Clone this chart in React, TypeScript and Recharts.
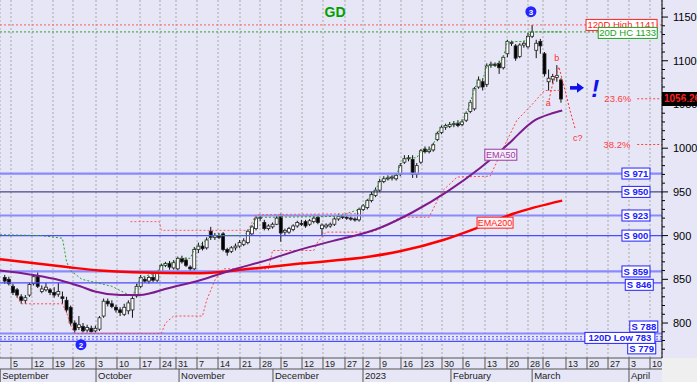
import React from 'react';
import {
  ComposedChart, Bar, Line, XAxis, YAxis, CartesianGrid, ReferenceLine, ReferenceDot, Customized,
} from 'recharts';

const FONT = '"Liberation Sans", Arial, Helvetica, sans-serif';

// ---------- DATA ----------
const FIRST_DAY = -2; // trading-day index of the first candle
const opens = [852,850,842,838,830,826,832,845,853,836,838,838,835,833,830,826,818,800,795,796,792,794,791,793,808,825,822,818,815,810,814,815,831,842,850,848,852,849,858,866,868,863,862,874,872,864,862,884,888,886,905,898,900,902,884,882,886,888,890,892,902,908,920,915,908,910,913,922,904,904,907,911,914,916,913,916,921,908,910,911,913,919,922,921,920,919,918,930,932,940,946,952,962,965,966,965,970,984,988,987,970,984,999,996,998,1010,1018,1024,1025,1027,1028,1027,1032,1042,1045,1070,1076,1073,1095,1096,1097,1092,1108,1120,1117,1105,1118,1116,1128,1112,1122,1108,1076,1079,1081,1078];
const highs = [855,853,845,840,833,832,846,856,858,843,846,840,841,846,836,830,820,803,808,800,798,797,797,808,828,828,826,821,818,822,826,832,845,855,853,854,856,860,868,870,871,872,876,877,875,866,887,892,893,898,910,903,903,904,886,888,891,895,897,907,912,923,924,918,913,915,924,925,908,910,913,917,918,918,919,924,924,914,914,915,921,925,924,923,922,921,932,936,942,950,955,965,968,969,969,971,983,992,992,992,983,999,1002,1002,1006,1019,1026,1028,1030,1031,1032,1033,1042,1055,1070,1082,1080,1097,1099,1098,1100,1106,1124,1123,1119,1120,1123,1132,1141,1124,1125,1110,1090,1085,1095,1080];
const lows = [845,843,832,829,822,822,830,843,840,834,836,832,829,830,822,812,797,788,792,789,789,789,789,791,806,819,817,812,808,808,810,806,829,840,846,845,847,847,856,864,861,861,860,868,864,858,860,880,883,884,895,895,896,882,877,880,883,886,888,890,900,906,917,906,906,908,912,893,900,902,905,909,911,909,911,914,913,900,908,909,911,917,919,918,917,916,916,928,930,938,944,950,960,963,963,963,968,982,985,966,966,982,994,994,996,1008,1016,1021,1023,1024,1024,1025,1030,1040,1043,1068,1066,1070,1092,1093,1085,1090,1104,1117,1100,1103,1115,1114,1126,1103,1108,1082,1066,1074,1076,1052];
const closes = [848,845,835,832,826,829,844,853,842,839,841,835,832,836,828,815,800,792,798,791,795,790,794,806,825,822,819,815,812,818,823,828,842,852,848,852,849,858,866,868,864,869,874,870,866,862,884,888,885,895,898,900,898,884,881,886,888,892,894,905,910,920,921,908,911,913,920,903,906,908,911,915,913,911,917,920,915,912,912,913,919,922,921,920,919,918,930,934,940,947,952,962,965,966,967,969,980,988,989,970,980,997,996,998,1004,1017,1024,1026,1027,1028,1026,1030,1040,1052,1068,1078,1070,1094,1096,1095,1092,1104,1122,1121,1103,1118,1120,1128,1133,1120,1117,1085,1080,1082,1083,1056.26];

// moving averages, read at sampled days: [day, value]
const ema50Pts = [[-3.15,860],[4.85,855],[11.4,849],[16.3,842],[19.9,836],[26,832],[30.8,832],[33.3,834],[36.9,839],[45.4,849],[53.4,861],[61.7,872],[69.7,884],[77.7,894],[86.7,905],[89.1,909],[97.1,927],[105.3,950],[113.3,977],[121.4,1010],[123.1,1018],[126.7,1032],[130.3,1039],[133.3,1043]];
const ema200Pts = [[-3.15,873],[13.1,864],[21.1,860],[29.1,858],[45.4,857],[57.5,862],[69.7,868],[86.7,876],[93.9,882],[104.4,895],[113.3,910],[121.4,925],[133.3,940]];
// 20-day highest close channel (green dotted)
const hcChanPts = [[-3.15,901],[7,900],[12,897],[13,870],[14,860],[16.7,850],[24,842],[29,830],[30,842],[31,852],[35,858],[36,866],[37,868],[39,869],[40,874],[43,874],[44,884],[45,888],[47,895],[48,898],[49,900],[56,900],[57,905],[58,910],[59,920],[60,921],[64,921],[79,922],[84,930],[85,934],[86,940],[87,947],[88,952],[89,962],[90,965],[93,969],[94,980],[95,988],[96,989],[98,989],[99,997],[101,998],[102,1004],[103,1017],[104,1024],[105,1026],[107,1028],[109,1030],[110,1040],[111,1052],[112,1068],[113,1078],[114,1078],[115,1094],[116,1096],[118,1096],[119,1104],[120,1122],[124,1122],[125,1128],[126,1133],[133,1133]];
// lower channel (red dotted)
const lowChanPts = [[1,830],[2,822],[12,822],[13,812],[14,797],[15,788],[36,788],[37,800],[39,808],[46,808],[47,826],[49,849],[51,862],[62,862],[63,883],[73,883],[74,893],[76,904],[87,904],[90,910],[94,921],[101,921],[104,950],[107.8,967],[115.8,968],[119,1000],[122.3,1032],[126,1050],[129,1066],[133,1066]];
// upper red dotted channel
const upChanPts = [[28.5,916],[35.5,916],[36,906],[57,906],[58,915],[59,924],[84,925]];
// a-b-c projection
const projPts = [[130.1,1055],[130.8,1070],[132.5,1093],[134,1066],[135.2,1043],[136.4,1023]];

const supportLevels = [971, 950, 923, 900, 859, 846, 788, 779];
const high120 = 1141;
const hc20 = 1133;
const low120 = 783;
const fib236 = 1056.5;
const fib382 = 1004.2;
const lastPrice = 1056.26;

const weekTickDays = [-0.49,4.61,9.71,14.56,20.15,25.24,30.83,35.68,39.56,44.66,49.76,55.1,59.95,65.05,70.15,75.24,80.58,84.95,89.08,94.17,99.27,104.13,109.22,114.56,119.9,125,128.64,134.22,139.32,144.42,149.51,154.61];
const weekLabels = ['5','12','19','26','3','10','17','24','31','7','14','21','28','5','12','19','27','2','9','16','23','30','6','13','20','28','6','13','20','27','3','10'];
const monthTickDays = [-3.1, 20.15, 40.3, 63.1, 84.95, 106.3, 126, 149.51];
const monthLabels = ['September','October','November','December','2023','February','March','April'];
const priceTicks = [770,780,790,800,810,820,830,840,850,860,870,880,890,900,910,920,930,940,950,960,970,980,990,1000,1010,1020,1030,1040,1050,1060,1070,1080,1090,1100,1110,1120,1130,1140,1150,1160];

const candles = opens.map((o, i) => ({
  d: FIRST_DAY + i, o, h: highs[i], l: lows[i], c: closes[i], range: [lows[i], highs[i]],
}));
const toPts = (arr: number[][]) => arr.map(([d, v]) => ({ d, v }));

// ---------- RENDER HELPERS ----------
const DOMAIN_X: [number, number] = [-3.155, 157.52];
const DOMAIN_Y: [number, number] = [760, 1169.5];
const PLOT_BOTTOM = 358;

const Candle = (props: any) => {
  const { x, y, width, height, payload } = props;
  if (!payload || x == null || y == null) return null;
  const { o, h, l, c } = payload;
  const top = height >= 0 ? y : y + height;
  const hh = Math.abs(height);
  const cx = x + width / 2;
  const k = h === l ? 0 : hh / (h - l);
  const yo = top + (h - o) * k;
  const yc = top + (h - c) * k;
  const bt = Math.min(yo, yc);
  const bh = Math.max(Math.abs(yo - yc), 1);
  const up = c >= o;
  return (
    <g>
      <line x1={cx} x2={cx} y1={top} y2={top + hh} stroke="#111" strokeWidth={1} />
      <rect x={cx - 1.5} y={bt} width={3} height={bh} fill={up ? '#ffffff' : '#000000'} stroke="#222" strokeWidth={0.8} />
    </g>
  );
};

const DateTick = (p: any) => {
  const { x, index } = p;
  return (
    <g>
      <line x1={x} x2={x} y1={PLOT_BOTTOM} y2={PLOT_BOTTOM + 11} stroke="#555" strokeWidth={1} />
      <text x={x + 2} y={PLOT_BOTTOM + 9} fontSize={9} fill="#222" fontFamily={FONT}>{weekLabels[index]}</text>
    </g>
  );
};

const MonthTick = (p: any) => {
  const { x, index } = p;
  return (
    <g>
      <line x1={x} x2={x} y1={PLOT_BOTTOM + 11} y2={PLOT_BOTTOM + 24} stroke="#555" strokeWidth={1} />
      <text x={x + 2} y={PLOT_BOTTOM + 21} fontSize={9.5} fill="#222" fontFamily={FONT}>{monthLabels[index]}</text>
    </g>
  );
};

const PriceTick = (p: any) => {
  const { x, y, payload } = p;
  const major = payload.value % 50 === 0;
  return (
    <g>
      <line x1={x} x2={x + (major ? 6 : 3)} y1={y} y2={y} stroke="#000" strokeWidth={1} />
      {major && (
        <text x={x + 11} y={y + 4} fontSize={11} fill="#000" fontFamily={FONT}>{payload.value}</text>
      )}
    </g>
  );
};

const boxLabel = (text: string, color: string, w: number, o: { dx?: number; dy?: number; bold?: boolean; fill?: string; size?: number } = {}) =>
  (p: any) => {
    const cx = p.cx + (o.dx ?? 0);
    const cy = p.cy + (o.dy ?? 0);
    return (
      <g>
        <rect x={cx - w / 2} y={cy - 5.5} width={w} height={11} fill={o.fill ?? '#ffffff'} stroke={color} strokeWidth={1} />
        <text x={cx} y={cy + 3.5} textAnchor="middle" fontSize={o.size ?? 9.5} fontWeight={o.bold ? 'bold' : 'normal'} fill={color} fontFamily={FONT}>{text}</text>
      </g>
    );
  };

const plainText = (text: string, color: string, size: number, o: { bold?: boolean; italic?: boolean; dy?: number } = {}) =>
  (p: any) => (
    <text x={p.cx} y={p.cy + (o.dy ?? size * 0.35)} textAnchor="middle" fontSize={size} fill={color}
      fontWeight={o.bold ? 'bold' : 'normal'} fontStyle={o.italic ? 'italic' : 'normal'} fontFamily={FONT}>{text}</text>
  );

const circled = (n: string) => (p: any) => (
  <g>
    <circle cx={p.cx} cy={p.cy} r={5.5} fill="#2424ff" />
    <text x={p.cx} y={p.cy + 3} textAnchor="middle" fontSize={8} fontWeight="bold" fill="#ffffff" fontFamily={FONT}>{n}</text>
  </g>
);

const arrowShape = (p: any) => (
  <g>
    <rect x={p.cx - 6} y={p.cy - 1.8} width={8} height={3.6} fill="#1010ee" />
    <path d={`M ${p.cx + 1} ${p.cy - 5} L ${p.cx + 8} ${p.cy} L ${p.cx + 1} ${p.cy + 5} Z`} fill="#1010ee" />
  </g>
);

const priceTag = (p: any) => (
  <g>
    <rect x={p.cx} y={p.cy - 7} width={36} height={14} fill="#000000" />
    <text x={p.cx + 2} y={p.cy + 3.5} fontSize={10} fontWeight="bold" fill="#ff2020" fontFamily={FONT}>{lastPrice.toFixed(2)}</text>
  </g>
);

const Overlay = () => (
  <g>
    <rect x={662} y={PLOT_BOTTOM} width={35} height={24} fill="#efefef" />
    <text x={335} y={17} textAnchor="middle" fontSize={14} fontWeight="bold" fill="#00a000" fontFamily={FONT}>GD</text>
  </g>
);

const supportStyle = (lvl: number) => {
  if (lvl === 950) return { stroke: '#20206a', strokeWidth: 1 };
  if (lvl === 971 || lvl === 923 || lvl === 859 || lvl === 788) return { stroke: '#8a8aff', strokeWidth: 2.2 };
  return { stroke: '#4a4aff', strokeWidth: 1.2 };
};
const supportLabelPos = (lvl: number) => {
  if (lvl === 846) return { d: 152, dy: 2 };
  if (lvl === 788) return { d: 153.1, dy: -7 };
  if (lvl === 779) return { d: 152.6, dy: 7 };
  return { d: 151.2, dy: 0 };
};

export default function App() {
  return (
    <div style={{ position: 'absolute', left: 0, top: 0, width: 697, height: 382, background: '#e6e6f7', fontFamily: FONT }}>
      <ComposedChart width={697} height={382} data={candles} margin={{ top: 0, right: 0, bottom: 0, left: 0 }}>
        <CartesianGrid horizontal={false} stroke="#aaaaaa" strokeDasharray="2 2" fill="#e6e6f7" />
        <XAxis dataKey="d" type="number" domain={DOMAIN_X} allowDataOverflow ticks={weekTickDays} interval={0}
          height={11} tickLine={false} tickSize={0} axisLine={{ stroke: '#555' }} tick={(p: any) => <DateTick {...p} />} />
        <XAxis xAxisId="m" dataKey="d" type="number" domain={DOMAIN_X} allowDataOverflow ticks={monthTickDays} interval={0}
          height={13} tickLine={false} tickSize={0} axisLine={{ stroke: '#555' }} tick={(p: any) => <MonthTick {...p} />} />
        <YAxis orientation="right" type="number" domain={DOMAIN_Y} allowDataOverflow ticks={priceTicks} interval={0}
          width={35} tickLine={false} tickSize={0} tickMargin={0} axisLine={{ stroke: '#000' }} tick={(p: any) => <PriceTick {...p} />} />

        {supportLevels.map((lvl) => (
          <ReferenceLine key={'s' + lvl} y={lvl} {...supportStyle(lvl)} />
        ))}
        <ReferenceLine y={high120} stroke="#ff5a5a" strokeDasharray="2 2" strokeWidth={1} />
        <ReferenceLine y={hc20} stroke="#2ea02e" strokeDasharray="2 2" strokeWidth={1} />
        <ReferenceLine y={low120 + 1.4} stroke="#5a5aff" strokeDasharray="2 2" strokeWidth={1} />
        <ReferenceLine y={low120 - 1.4} stroke="#5a5aff" strokeDasharray="2 2" strokeWidth={1} />
        <ReferenceLine segment={[{ x: 151.5, y: fib236 }, { x: 157.5, y: fib236 }]} stroke="#ff4040" strokeDasharray="2 2" />
        <ReferenceLine segment={[{ x: 151.5, y: fib382 }, { x: 157.5, y: fib382 }]} stroke="#ff4040" strokeDasharray="2 2" />

        <Line data={toPts(upChanPts)} dataKey="v" type="linear" stroke="#ff6060" strokeDasharray="2 2" strokeWidth={1} dot={false} activeDot={false} isAnimationActive={false} />
        <Line data={toPts(lowChanPts)} dataKey="v" type="linear" stroke="#ff4a4a" strokeDasharray="2 2" strokeWidth={1} dot={false} activeDot={false} isAnimationActive={false} />
        <Line data={toPts(hcChanPts)} dataKey="v" type="linear" stroke="#2aa02a" strokeDasharray="2 2" strokeWidth={1} dot={false} activeDot={false} isAnimationActive={false} />
        <Line data={toPts(projPts)} dataKey="v" type="linear" stroke="#ff3030" strokeDasharray="2 2" strokeWidth={1} dot={false} activeDot={false} isAnimationActive={false} />
        <Line data={toPts(ema200Pts)} dataKey="v" type="monotone" stroke="#ff0000" strokeWidth={2.5} dot={false} activeDot={false} isAnimationActive={false} />
        <Line data={toPts(ema50Pts)} dataKey="v" type="monotone" stroke="#7d1a8c" strokeWidth={2} dot={false} activeDot={false} isAnimationActive={false} />

        <Bar dataKey="range" barSize={3} shape={(p: any) => <Candle {...p} />} isAnimationActive={false} />

        {supportLevels.map((lvl) => {
          const pos = supportLabelPos(lvl);
          return <ReferenceDot key={'l' + lvl} x={pos.d} y={lvl} r={0} shape={boxLabel('S ' + lvl, '#2020ff', 28, { bold: true, dy: pos.dy })} />;
        })}
        <ReferenceDot x={147.7} y={high120} r={0} shape={boxLabel('120D High ' + high120, '#ff2020', 71, { size: 9.5 })} />
        <ReferenceDot x={149.2} y={hc20} r={0} shape={boxLabel('20D HC ' + hc20, '#20a020', 59, { size: 9.5, dy: 1 })} />
        <ReferenceDot x={147.3} y={low120} r={0} shape={boxLabel('120D Low ' + low120, '#2020ff', 70, { bold: true, size: 9.5 })} />
        <ReferenceDot x={118.4} y={992.5} r={0} shape={boxLabel('EMA50', '#9a3aa8', 32, { fill: '#f6eef8', size: 9 })} />
        <ReferenceDot x={117} y={914.8} r={0} shape={boxLabel('EMA200', '#ff2020', 36, { fill: '#fff0f0', size: 9 })} />
        <ReferenceDot x={146.8} y={fib236} r={0} shape={plainText('23.6%', '#ff4040', 9.5)} />
        <ReferenceDot x={146.6} y={fib382} r={0} shape={plainText('38.2%', '#ff4040', 9.5)} />
        <ReferenceDot x={132} y={1103.4} r={0} shape={plainText('b', '#ff3030', 9)} />
        <ReferenceDot x={129.9} y={1052} r={0} shape={plainText('a', '#ff3030', 9)} />
        <ReferenceDot x={137.1} y={1012} r={0} shape={plainText('c?', '#ff3030', 9)} />
        <ReferenceDot x={125.7} y={1156.1} r={0} shape={circled('3')} />
        <ReferenceDot x={16.5} y={775.2} r={0} shape={circled('2')} />
        <ReferenceDot x={136.65} y={1069} r={0} shape={arrowShape} />
        <ReferenceDot x={141.3} y={1069} r={0} shape={plainText('!', '#1010ee', 24, { bold: true, italic: true, dy: 9 })} />
        <ReferenceDot x={157.52} y={lastPrice} r={0} ifOverflow="visible" shape={priceTag} />
        <Customized component={Overlay} />
      </ComposedChart>
    </div>
  );
}
